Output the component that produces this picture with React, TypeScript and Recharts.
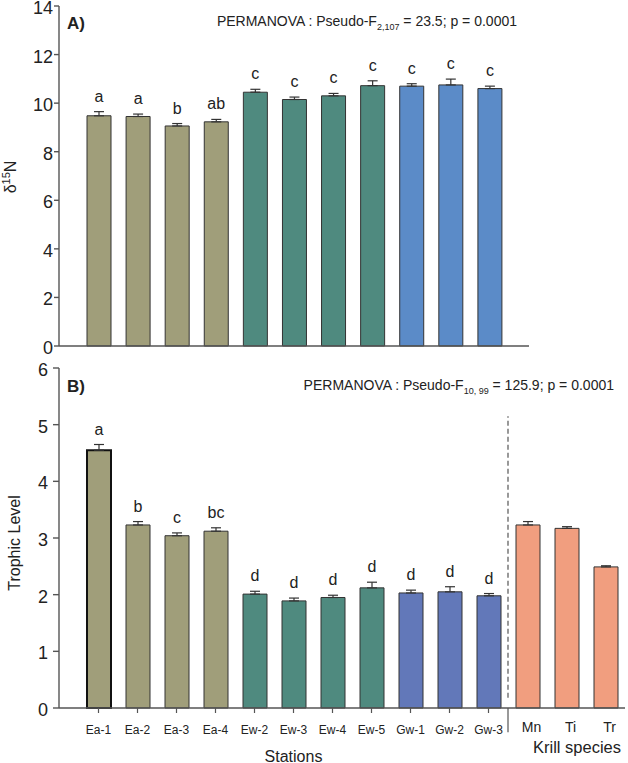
import React from 'react';
import { BarChart, Bar, XAxis, YAxis, ErrorBar, LabelList, Cell, ReferenceLine } from 'recharts';

// categories
const stations = ['Ea-1', 'Ea-2', 'Ea-3', 'Ea-4', 'Ew-2', 'Ew-3', 'Ew-4', 'Ew-5', 'Gw-1', 'Gw-2', 'Gw-3'];
const stationGroups = ['Ea', 'Ea', 'Ea', 'Ea', 'Ew', 'Ew', 'Ew', 'Ew', 'Gw', 'Gw', 'Gw'];
const krill = ['Mn', 'Ti', 'Tr'];

// panel A: d15N
const d15N = [9.48, 9.45, 9.06, 9.23, 10.45, 10.15, 10.3, 10.72, 10.7, 10.75, 10.6];
const d15NErr = [0.17, 0.1, 0.1, 0.1, 0.12, 0.1, 0.1, 0.2, 0.1, 0.24, 0.1];
const d15NLetters = ['a', 'a', 'b', 'ab', 'c', 'c', 'c', 'c', 'c', 'c', 'c'];
const d15NTicks = [0, 2, 4, 6, 8, 10, 12, 14];

// panel B: trophic level (stations then krill)
const trophic = [4.55, 3.23, 3.04, 3.12, 2.01, 1.89, 1.95, 2.12, 2.03, 2.05, 1.98, 3.23, 3.17, 2.49];
const trophicErr = [0.1, 0.06, 0.05, 0.06, 0.05, 0.05, 0.04, 0.1, 0.05, 0.09, 0.04, 0.06, 0.03, 0.02];
const trophicLetters = ['a', 'b', 'c', 'bc', 'd', 'd', 'd', 'd', 'd', 'd', 'd', '', '', ''];
const trophicTicks = [0, 1, 2, 3, 4, 5, 6];

const sans = "'Liberation Sans', Arial, sans-serif";
const axisColor = '#555';
const textColor = '#222';

const colorsA: Record<string, string> = { Ea: '#a09e7a', Ew: '#4f8a7f', Gw: '#5b8bc8' };
const colorsB: Record<string, string> = { Ea: '#a09e7a', Ew: '#4f8a7f', Gw: '#6278b9', Kr: '#f19e7f' };

const dataA = stations.map((name, i) => ({
  name,
  v: d15N[i],
  e: [0, d15NErr[i]],
  cap: d15NErr[i],
  letter: d15NLetters[i],
  group: stationGroups[i],
}));

const dataB = [...stations, ...krill].map((name, i) => ({
  name,
  v: trophic[i],
  e: [0, trophicErr[i]],
  cap: trophicErr[i],
  letter: trophicLetters[i],
  group: i < stations.length ? stationGroups[i] : 'Kr',
}));

const YTick = (props: any) => {
  const { x, y, payload } = props;
  return (
    <text x={x} y={y + 8} textAnchor="end" fontFamily={sans} fontSize={18} fill={textColor}>
      {payload.value}
    </text>
  );
};

const TickB = (props: any) => {
  const { x, y, payload } = props;
  const name = payload.value as string;
  const isKrill = krill.includes(name);
  return (
    <g fontFamily={sans} fill={textColor}>
      {!isKrill && <line x1={x} x2={x} y1={y} y2={y + 5} stroke={axisColor} strokeWidth={1.2} />}
      <text x={isKrill ? x + 4 : x} y={isKrill ? y + 24 : y + 25.5} textAnchor="middle" fontSize={isKrill ? 14 : 12}>
        {name}
      </text>
      {name === 'Ew-3' && (
        <text x={x} y={y + 53.5} textAnchor="middle" fontSize={16}>
          Stations
        </text>
      )}
      {name === 'Ti' && (
        <text x={x + 10.5} y={y + 44.5} textAnchor="middle" fontSize={16.5}>
          Krill species
        </text>
      )}
    </g>
  );
};

const letterStyle = { fontSize: 16, fill: textColor, fontFamily: sans };

export default function App() {
  return (
    <div style={{ position: 'absolute', left: 0, top: 0, width: 628, height: 763, background: '#fff' }}>
      <div style={{ position: 'absolute', left: 0, top: 0 }}>
        <BarChart width={628} height={366} data={dataA} margin={{ top: 6, right: 99, bottom: 0, left: 0 }} barSize={24}>
          <XAxis dataKey="name" height={20} interval={0} tick={false} tickSize={6}
            padding={{ left: 20, right: 20 }} stroke={axisColor} strokeWidth={1.4} />
          <XAxis xAxisId="top" dataKey="name" orientation="top" height={0} tick={false} tickLine={false}
            stroke={axisColor} strokeWidth={1.4} />
          <YAxis width={59} domain={[0, 14]} ticks={d15NTicks} interval={0} tickSize={5} tickMargin={1}
            tick={<YTick />} stroke={axisColor} strokeWidth={1.4} />
          <YAxis yAxisId="right" orientation="right" width={0} domain={[0, 1]} tick={false} tickLine={false}
            stroke={axisColor} strokeWidth={1.4} />
          <Bar dataKey="v" stackId="s" stroke="#333" strokeWidth={1} isAnimationActive={false}>
            {dataA.map((d) => (
              <Cell key={d.name} fill={colorsA[d.group]} />
            ))}
            <ErrorBar dataKey="e" width={5} stroke="#333" strokeWidth={1.2} />
          </Bar>
          <Bar dataKey="cap" stackId="s" fill="none" isAnimationActive={false}>
            <LabelList dataKey="letter" position="top" offset={10} style={letterStyle} />
          </Bar>
        </BarChart>
      </div>

      <div style={{ position: 'absolute', left: 0, top: 350 }}>
        <BarChart width={628} height={413} data={dataB} margin={{ top: 18, right: 3, bottom: 0, left: 0 }} barSize={24}>
          <XAxis dataKey="name" height={55} interval={0} tick={<TickB />} tickLine={false} tickSize={0} tickMargin={0}
            padding={{ left: 20, right: 0 }} stroke={axisColor} strokeWidth={1.4} />
          <XAxis xAxisId="top" dataKey="name" orientation="top" height={0} tick={false} tickLine={false}
            stroke={axisColor} strokeWidth={1.4} />
          <YAxis width={59} domain={[0, 6]} ticks={trophicTicks} interval={0} tickSize={6} tickMargin={5}
            tick={<YTick />} stroke={axisColor} strokeWidth={1.4} />
          <YAxis yAxisId="right" orientation="right" width={0} domain={[0, 1]} tick={false} tickLine={false}
            stroke={axisColor} strokeWidth={1.4} />
          <ReferenceLine
            segment={[{ x: 'Gw-3', y: 0.18 }, { x: 'Gw-3', y: 5.15 }]}
            position="end" stroke="#555" strokeWidth={1.2} strokeDasharray="5 3" ifOverflow="visible"
          />
          <ReferenceLine
            segment={[{ x: 'Gw-3', y: 0 }, { x: 'Gw-3', y: -0.43 }]}
            position="end" stroke="#555" strokeWidth={1.2} ifOverflow="visible"
          />
          <Bar dataKey="v" stackId="s" stroke="#333" strokeWidth={1} isAnimationActive={false}>
            {dataB.map((d, i) => (
              <Cell key={d.name} fill={colorsB[d.group]} stroke={i === 0 ? '#111' : '#333'} strokeWidth={i === 0 ? 2 : 1} />
            ))}
            <ErrorBar dataKey="e" width={5} stroke="#333" strokeWidth={1.2} />
          </Bar>
          <Bar dataKey="cap" stackId="s" fill="none" isAnimationActive={false}>
            <LabelList dataKey="letter" position="top" offset={10} style={letterStyle} />
          </Bar>
        </BarChart>
      </div>

      <svg width={628} height={763} style={{ position: 'absolute', left: 0, top: 0, pointerEvents: 'none' }}>
        <text x={67} y={29} fontFamily={sans} fontWeight="bold" fontSize={17} fill={textColor}>A)</text>
        <text x={517} y={26} textAnchor="end" fontFamily={sans} fontSize={14} fill={textColor}>
          PERMANOVA : Pseudo-F<tspan fontSize={9} dy={4}>2,107</tspan><tspan dy={-4}> = 23.5; p = 0.0001</tspan>
        </text>
        <text x={67} y={392} fontFamily={sans} fontWeight="bold" fontSize={17} fill={textColor}>B)</text>
        <text x={614} y={390} textAnchor="end" fontFamily={sans} fontSize={14} fill={textColor}>
          PERMANOVA : Pseudo-F<tspan fontSize={9} dy={4}>10, 99</tspan><tspan dy={-4}> = 125.9; p = 0.0001</tspan>
        </text>
        <text transform="translate(16,177) rotate(-90)" textAnchor="middle" fontFamily={sans} fontSize={16} fill={textColor}>
          δ<tspan fontSize={11} dy={-6}>15</tspan><tspan dy={6}>N</tspan>
        </text>
        <text transform="translate(19.5,543) rotate(-90)" textAnchor="middle" fontFamily={sans} fontSize={16} fill={textColor}>
          Trophic Level
        </text>
      </svg>
    </div>
  );
}
